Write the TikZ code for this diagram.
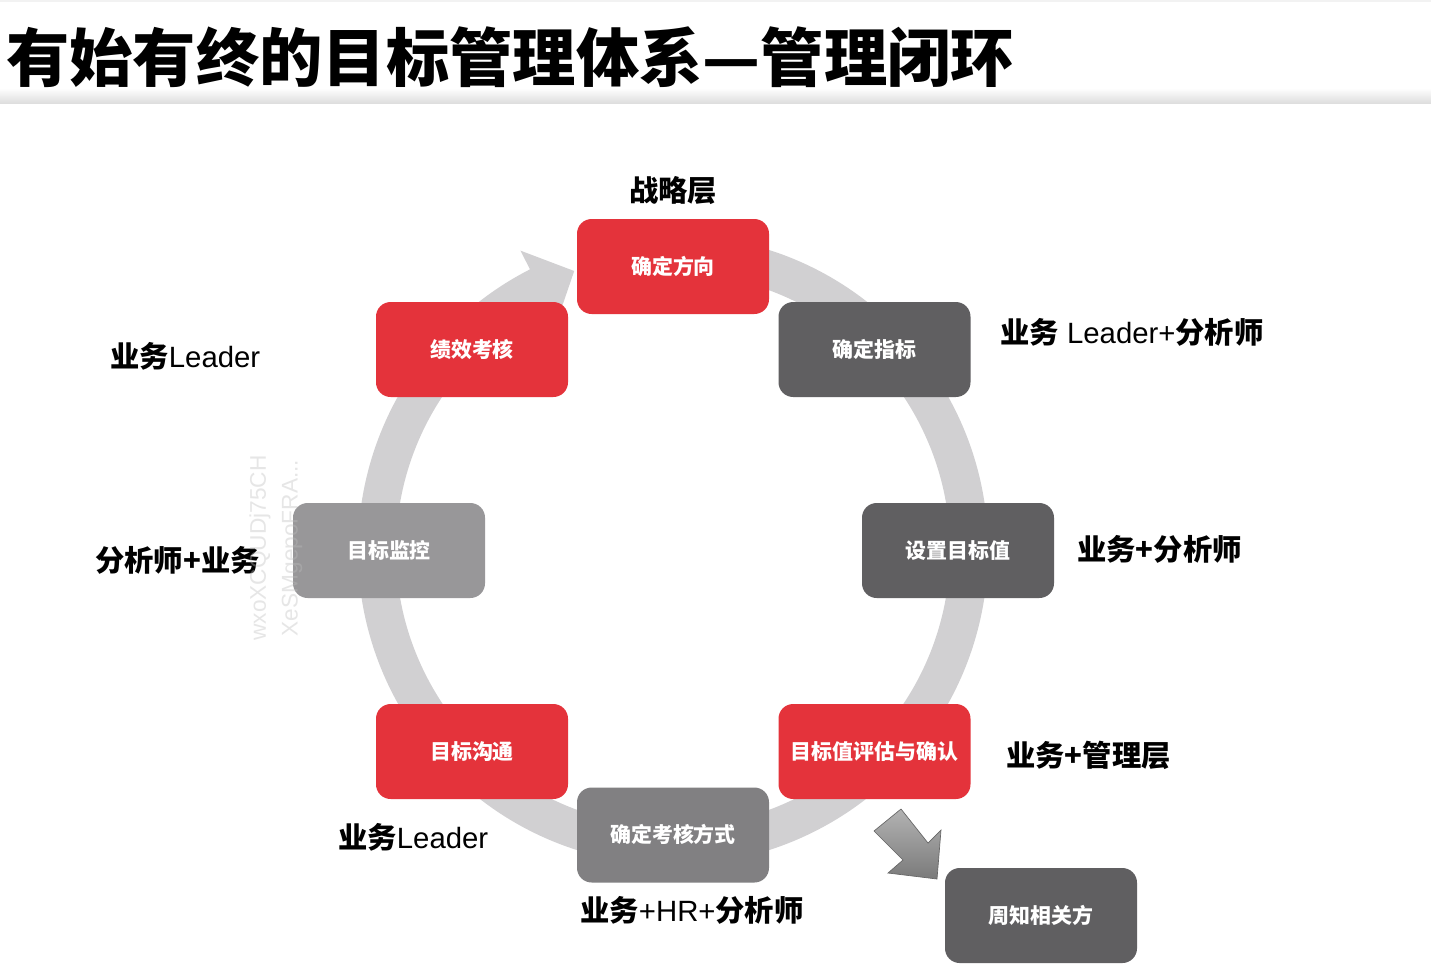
\documentclass[tikz,border=0pt]{standalone}
\usepackage{fontspec}
\setmainfont{Liberation Sans}
\newfontfamily\cjk{Noto Sans CJK SC}
\newcommand\zh[1]{{\cjk\bfseries #1}}
\definecolor{boxred}{RGB}{228,51,59}
\definecolor{boxdark}{RGB}{96,95,97}
\definecolor{boxmid}{RGB}{129,128,130}
\definecolor{boxlight}{RGB}{152,151,153}
\definecolor{ringgray}{RGB}{209,208,210}
\tikzset{
  box/.style={rounded corners=11pt, minimum width=144pt, minimum height=71.25pt,
    inner sep=0pt, text=white, font=\cjk\bfseries\fontsize{15.7}{16}\selectfont,
    text height=13.8pt, text depth=1.9pt},
  redbox/.style={box, fill=boxred},
  darkbox/.style={box, fill=boxdark},
  midbox/.style={box, fill=boxmid},
  lightbox/.style={box, fill=boxlight},
  lab/.style={inner sep=0pt, font=\fontsize{22}{22}\selectfont, text=black,
    text height=19.4pt, text depth=2.6pt},
  wmark/.style={inner sep=0pt, rotate=90, text=black!26, opacity=0.375,
    font=\fontsize{17}{17}\selectfont}
}
\begin{document}
\begin{tikzpicture}[x=0.75pt,y=-0.75pt]
\useasboundingbox (0,0) rectangle (1431,972);
\fill[white] (0,0) rectangle (1431,972);
% title band
\fill[black!5] (0,0) rectangle (1431,2);
\shade[top color=white, bottom color=black!13] (0,88) rectangle (1431,103);
\node[anchor=west, inner sep=0pt, font=\cjk\bfseries\fontsize{47.5}{47.5}\selectfont,
  text height=41.8pt, text depth=5.7pt] (title) at (6,57) {有始有终的目标管理体系—管理闭环};
% ring with arrow head
\begin{scope}[shift={(673,550)}]
\fill[ringgray] (-80:315) arc[start angle=-80, end angle=243, radius=315]
  -- (243:336) -- (250.5:296) -- (243:256) -- (243:277)
  arc[start angle=243, end angle=-80, radius=277] -- cycle;
\end{scope}
% boxes
\node[redbox]   (fx) at (673,266.5)   {确定方向};
\node[darkbox]  (zb) at (874.5,349.5) {确定指标};
\node[darkbox]  (mbz) at (958,550.5)  {设置目标值};
\node[redbox]   (pg) at (874.5,751.5) {目标值评估与确认};
\node[midbox]   (kh) at (673,835)     {确定考核方式};
\node[redbox]   (gt) at (472,751.5)   {目标沟通};
\node[lightbox] (jk) at (389,550.5)   {目标监控};
\node[redbox]   (jx) at (472,349.5)   {绩效考核};
\node[darkbox]  (zz) at (1041,915.5)  {周知相关方};
% block arrow
\shadedraw[top color=black!30, bottom color=black!52, draw=black!60, line width=0.5pt]
  (874,831) -- (901,809) -- (928,843) -- (941,830) -- (937,879) -- (888,873) -- (903,860) -- cycle;
% labels
\node[lab] (l0) at (673,190) {\zh{战略层}};
\node[lab, anchor=west] (l1) at (1000,332) {\zh{业务} Leader+\zh{分析师}};
\node[lab, anchor=west] (l2) at (110,356) {\zh{业务}Leader};
\node[lab, anchor=west] (l3) at (95,560) {\zh{分析师+业务}};
\node[lab, anchor=west] (l4) at (1077,549) {\zh{业务+分析师}};
\node[lab, anchor=west] (l5) at (1006,755) {\zh{业务+管理层}};
\node[lab, anchor=west] (l6) at (338,837) {\zh{业务}Leader};
\node[lab, anchor=west] (l7) at (580,910) {\zh{业务}+HR+\zh{分析师}};
% watermark
\node[wmark] (w1) at (260,548) {wxoXCQUDj75CH};
\node[wmark] (w2) at (292,548) {XeSMgepoFRA...};
\end{tikzpicture}
\end{document}
